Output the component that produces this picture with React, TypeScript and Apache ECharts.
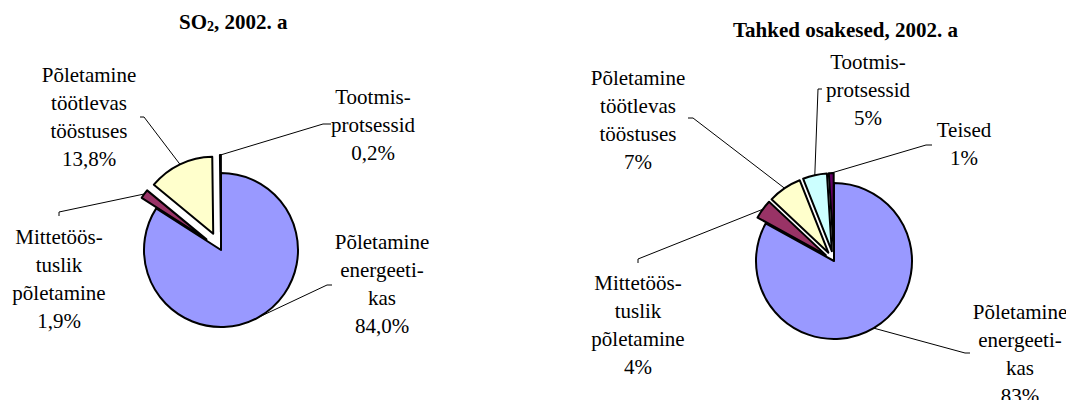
import React, { useEffect, useRef } from 'react';
import * as echarts from 'echarts';

// ---------- data ----------
const categoriesLeft = [
  'Põletamine\nenergeeti-\nkas',
  'Mittetöös-\ntuslik\npõletamine',
  'Põletamine\ntöötlevas\ntööstuses',
  'Tootmis-\nprotsessid',
];
const valuesLeft = [84.0, 1.9, 13.8, 0.2];

const categoriesRight = [
  'Põletamine\nenergeeti-\nkas',
  'Mittetöös-\ntuslik\npõletamine',
  'Põletamine\ntöötlevas\ntööstuses',
  'Tootmis-\nprotsessid',
  'Teised',
];
const valuesRight = [83, 4, 7, 5, 1];

const colorsLeft = ['#9999FF', '#993366', '#FFFFCC', '#CCFFFF'];
const colorsRight = ['#9999FF', '#993366', '#FFFFCC', '#CCFFFF', '#660066'];

const titleLeftRich = '{a|SO}{s|2}{a|, 2002. a}';
const titleRight = 'Tahked osakesed, 2002. a';

// ---------- label layout (positions only) ----------
// [labelCenterX, labelCenterY, bendX, bendY, endX, endY]
const labelLayoutLeft = [
  [382, 284, 327, 285, 332, 285],
  [59, 279, 59, 212, 59, 216],
  [89, 117, 144, 117, 140, 117],
  [373, 125, 323, 124, 331, 124],
];
const labelLayoutRight = [
  [1020, 354, 965, 353, 970, 353],
  [638, 325, 638, 259, 638, 263],
  [638, 120, 693, 118, 688, 118],
  [868, 90, 818, 89, 822, 89],
  [964, 144, 926, 145, 932, 145],
];

const FONT = '"Liberation Serif", "Times New Roman", serif';

function buildPie(
  names: string[],
  values: number[],
  colors: string[],
  layout: number[][],
  center: [number, number],
  radius: number,
  offset: number,
  decimals: number,
) {
  const total = values.reduce((a, b) => a + b, 0);
  let cum = 0;
  const mids = values.map((v) => {
    const m = ((cum + v / 2) / total) * Math.PI * 2;
    cum += v;
    return m;
  });
  return values.map((_, k) => {
    const off = k === 0 ? 0 : offset;
    const dir = [Math.sin(mids[k]), -Math.cos(mids[k])];
    const c: [number, number] = [center[0] + dir[0] * off, center[1] + dir[1] * off];
    const anchor = [c[0] + dir[0] * radius, c[1] + dir[1] * radius];
    return {
      type: 'pie',
      center: c,
      radius,
      startAngle: 90,
      clockwise: true,
      silent: true,
      avoidLabelOverlap: false,
      emphasis: { disabled: true },
      label: {
        show: false,
        position: 'outside',
        color: '#000',
        fontFamily: FONT,
        fontSize: 21,
        lineHeight: 28,
        align: 'center',
        formatter: (p: any) =>
          p.name + '\n' + Number(p.value).toFixed(decimals).replace('.', ',') + '%',
      },
      labelLine: {
        show: false,
        lineStyle: { color: '#000', width: 1 },
      },
      labelLayout: (p: any) => {
        if (p.dataIndex !== k) return {};
        const l = layout[k];
        return {
          x: l[0],
          y: l[1],
          align: 'center',
          verticalAlign: 'middle',
          labelLinePoints: [anchor, [l[2], l[3]], [l[4], l[5]]],
        };
      },
      data: values.map((v, j) => ({
        value: v,
        name: names[j],
        itemStyle:
          j === k
            ? { color: colors[j], borderColor: '#000', borderWidth: 2 }
            : { color: 'rgba(0,0,0,0)', borderWidth: 0 },
        label: { show: j === k },
        labelLine: { show: j === k },
      })),
    };
  });
}

export default function App() {
  const ref = useRef<HTMLDivElement>(null);
  useEffect(() => {
    if (!ref.current) return;
    const chart = echarts.init(ref.current, undefined, { renderer: 'svg' });
    chart.setOption({
      animation: false,
      backgroundColor: '#ffffff',
      title: [
        {
          text: titleLeftRich,
          left: 179,
          top: 10,
          padding: 0,
          textStyle: {
            rich: {
              a: { fontFamily: FONT, fontSize: 21, fontWeight: 'bold', color: '#000' },
              s: {
                fontFamily: FONT,
                fontSize: 14,
                fontWeight: 'bold',
                color: '#000',
                padding: [9, 0, 0, 0],
              },
            },
          },
        },
        {
          text: titleRight,
          left: 733,
          top: 19,
          padding: 0,
          textStyle: { fontFamily: FONT, fontSize: 21, fontWeight: 'bold', color: '#000' },
        },
      ],
      series: [
        ...buildPie(categoriesLeft, valuesLeft, colorsLeft, labelLayoutLeft, [221, 250], 77, 18, 1),
        ...buildPie(categoriesRight, valuesRight, colorsRight, labelLayoutRight, [834, 261], 78, 10, 0),
      ],
    });
    return () => chart.dispose();
  }, []);
  return (
    <div
      ref={ref}
      style={{ position: 'fixed', left: 0, top: 0, width: 1066, height: 400, background: '#fff' }}
    />
  );
}
